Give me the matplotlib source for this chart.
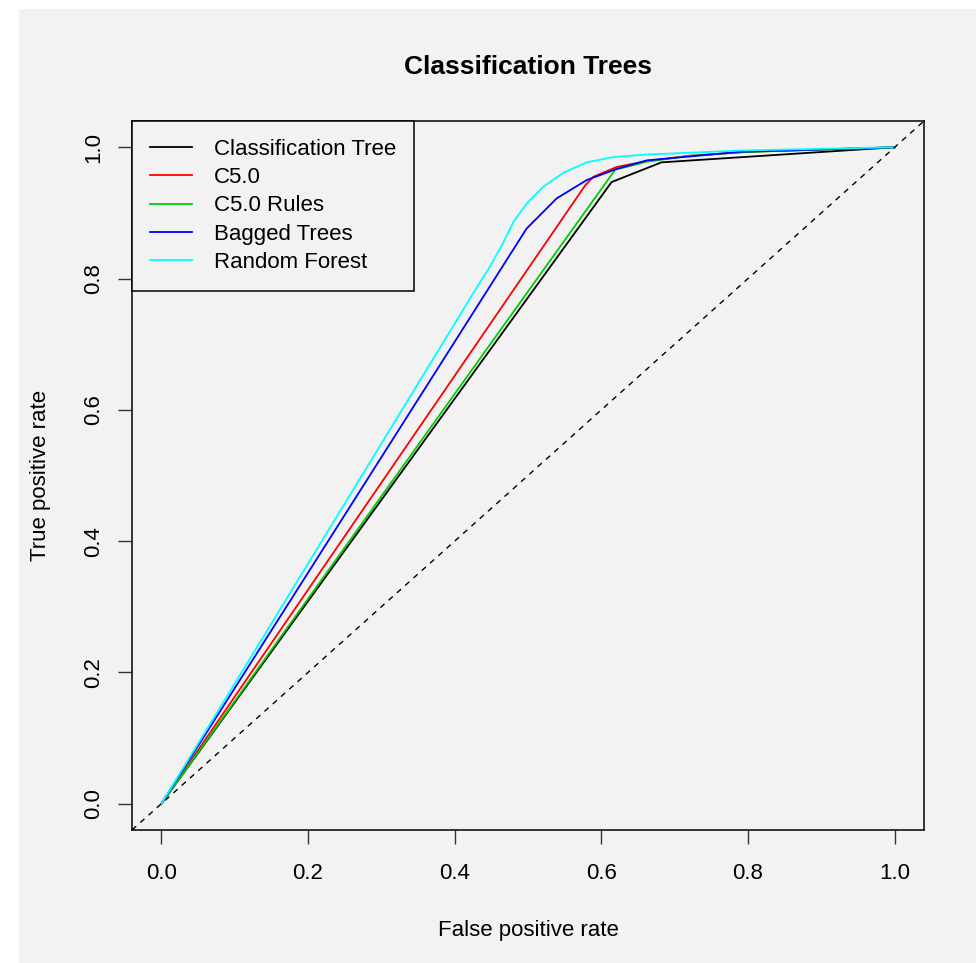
import matplotlib
matplotlib.use("Agg")
import matplotlib.pyplot as plt
from matplotlib.patches import Rectangle

plt.rcParams['font.family'] = ['Liberation Sans', 'DejaVu Sans']

# ROC curves (false positive rate, true positive rate)
tree_fpr = [0.0, 0.614, 0.682, 1.0]
tree_tpr = [0.0, 0.947, 0.977, 1.0]

c50_fpr = [0.0, 0.578, 0.589, 0.621, 0.662, 0.72, 0.80, 1.0]
c50_tpr = [0.0, 0.942, 0.955, 0.970, 0.979, 0.987, 0.993, 1.0]

rules_fpr = [0.0, 0.619, 0.634, 0.662, 0.72, 0.80, 1.0]
rules_tpr = [0.0, 0.966, 0.970, 0.978, 0.987, 0.993, 1.0]

bag_fpr = [0.0, 0.498, 0.539, 0.580, 0.621, 0.662, 0.789, 1.0]
bag_tpr = [0.0, 0.876, 0.922, 0.950, 0.967, 0.980, 0.993, 1.0]

rf_fpr = [0.0, 0.425, 0.448, 0.465, 0.480, 0.498, 0.521, 0.548, 0.580,
          0.616, 0.662, 0.707, 0.789, 1.0]
rf_tpr = [0.0, 0.777, 0.818, 0.852, 0.886, 0.914, 0.940, 0.961, 0.977,
          0.985, 0.989, 0.991, 0.995, 1.0]

labels = ["Classification Tree", "C5.0", "C5.0 Rules", "Bagged Trees", "Random Forest"]
colors = ["black", "#ff0000", "#00cd00", "#0000ff", "#00ffff"]

bg = "#f2f2f2"

fig = plt.figure(figsize=(9.76, 9.63), dpi=100, facecolor="white")
fig.patches.append(Rectangle((19 / 976, 0), 1 - 19 / 976, 954 / 963,
                             transform=fig.transFigure, facecolor=bg,
                             edgecolor="none", zorder=-10))
ax = fig.add_axes([132 / 976, 133 / 963, 792 / 976, 709 / 963])
ax.set_facecolor(bg)

curves = [(tree_fpr, tree_tpr), (c50_fpr, c50_tpr), (rules_fpr, rules_tpr),
          (bag_fpr, bag_tpr), (rf_fpr, rf_tpr)]
for (x, y), lab, col in zip(curves, labels, colors):
    ax.plot(x, y, color=col, lw=1.3, label=lab)

ax.axline((0, 0), slope=1, color="black", lw=1.0, linestyle=(0, (4, 4)))

ax.set_xlim(-0.04, 1.04)
ax.set_ylim(-0.04, 1.04)
ticks = [0.0, 0.2, 0.4, 0.6, 0.8, 1.0]
ax.set_xticks(ticks)
ax.set_yticks(ticks)
ax.set_xticklabels([f"{t:.1f}" for t in ticks])
ax.set_yticklabels([f"{t:.1f}" for t in ticks], rotation=90, va="center")
ax.tick_params(length=10, width=1, color="#333333", labelsize=16)
ax.tick_params(axis="x", pad=14)
ax.tick_params(axis="y", pad=10)
for s in ax.spines.values():
    s.set_linewidth(1.1)
    s.set_color("black")

ax.set_xlabel("False positive rate", fontsize=16, labelpad=25.5)
ax.set_ylabel("True positive rate", fontsize=16, labelpad=23)
ax.set_title("Classification Trees", fontsize=19, fontweight="bold", pad=34)

leg = ax.legend(loc="upper left", borderaxespad=0, fancybox=False,
                edgecolor="black", facecolor=bg, framealpha=1, fontsize=16,
                handlelength=1.9, handletextpad=1.0, labelspacing=0.33,
                borderpad=0.8)
leg.get_frame().set_linewidth(1.1)

fig.savefig("out.png", dpi=100, facecolor="white")
